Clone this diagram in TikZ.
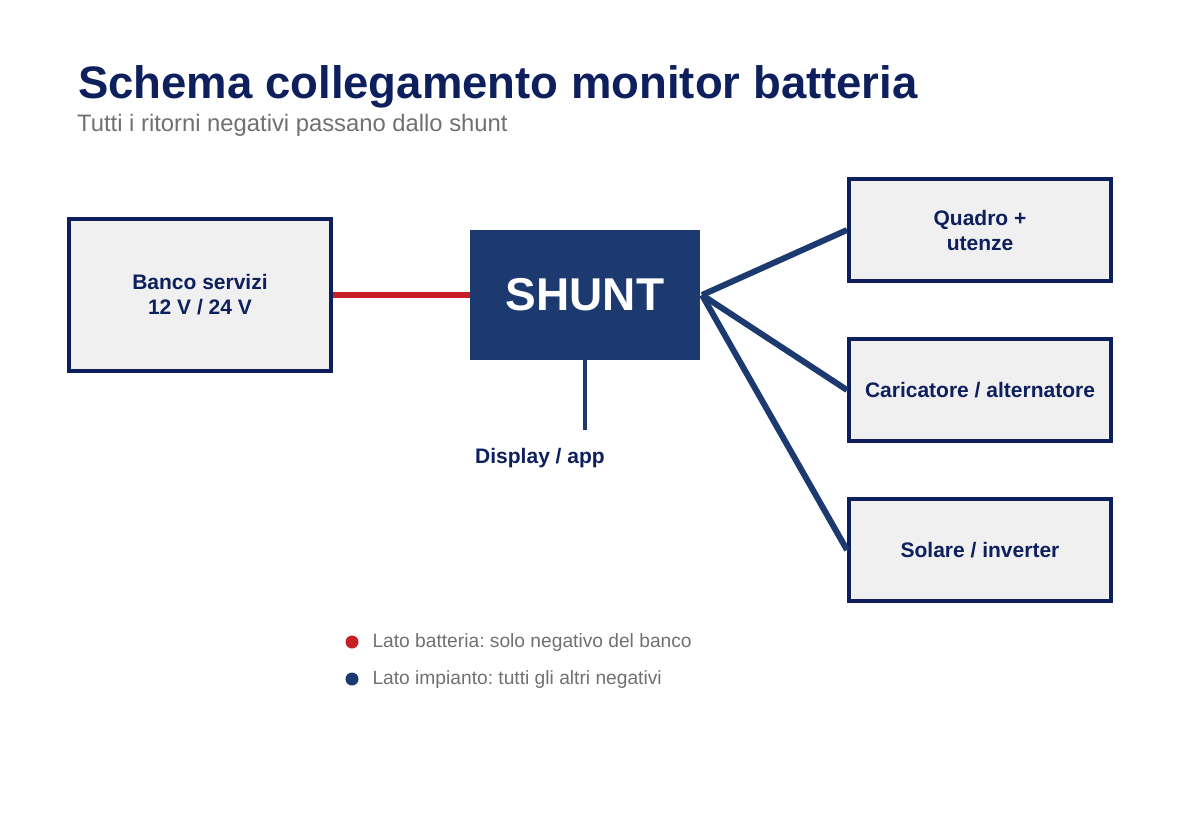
\documentclass[tikz,border=0pt]{standalone}
\usepackage{fontspec}
\setmainfont{Liberation Sans}
\definecolor{navy}{HTML}{0D1F5C}
\definecolor{shunt}{HTML}{1C3A70}
\definecolor{redw}{HTML}{C62026}
\definecolor{greyt}{HTML}{707070}
\definecolor{boxf}{HTML}{F0F0F0}
\begin{document}
\frenchspacing
\begin{tikzpicture}[x=1pt,y=-1pt,
  box/.style={draw=navy,line width=4pt,fill=boxf,text=navy,font=\fontsize{21}{25}\selectfont\bfseries,align=center,inner sep=0},
  wire/.style={line width=6pt,color=shunt},
  lab/.style={font=\fontsize{19.2}{22}\selectfont,text=greyt,anchor=west}]
\useasboundingbox (0,0) rectangle (1200,820);
\node[anchor=base west,text=navy,font=\fontsize{45.5}{50}\selectfont\bfseries,inner sep=0] (title) at (78,98) {Schema collegamento monitor batteria};
\node[anchor=base west,text=greyt,font=\fontsize{23.8}{28}\selectfont,inner sep=0] (sub) at (77,131) {Tutti i ritorni negativi passano dallo shunt};
\node[box,minimum width=262pt,minimum height=152pt] (banco) at (200,295) {Banco servizi\\12 V / 24 V};
\node[fill=shunt,text=white,minimum width=230pt,minimum height=130pt,inner sep=0,font=\fontsize{46}{52}\selectfont\bfseries] (sh) at (585,295) {SHUNT};
\node[box,minimum width=262pt,minimum height=102pt] (q) at (980,230) {Quadro +\\utenze};
\node[box,minimum width=262pt,minimum height=102pt] (c) at (980,390) {Caricatore / alternatore};
\node[box,minimum width=262pt,minimum height=102pt] (s) at (980,550) {Solare / inverter};
\coordinate (hub) at (702,295);
\draw[line width=6pt,color=redw] (banco.east) -- (sh.west);
\draw[wire] (hub) -- (q.west);
\draw[wire] (hub) -- (c.west);
\draw[wire] (hub) -- (s.west);
\node[text=navy,font=\fontsize{21}{25}\selectfont\bfseries] (disp) at (540,458) {Display / app};
\coordinate (dtop) at (585,430);
\draw[line width=4pt,color=shunt] (sh.south) -- (dtop);
\fill[redw] (352,642) circle (6.5);
\fill[shunt] (352,679) circle (6.5);
\node[lab] (l1) at (369,643) {Lato batteria: solo negativo del banco};
\node[lab] (l2) at (369,680) {Lato impianto: tutti gli altri negativi};
\end{tikzpicture}
\end{document}
